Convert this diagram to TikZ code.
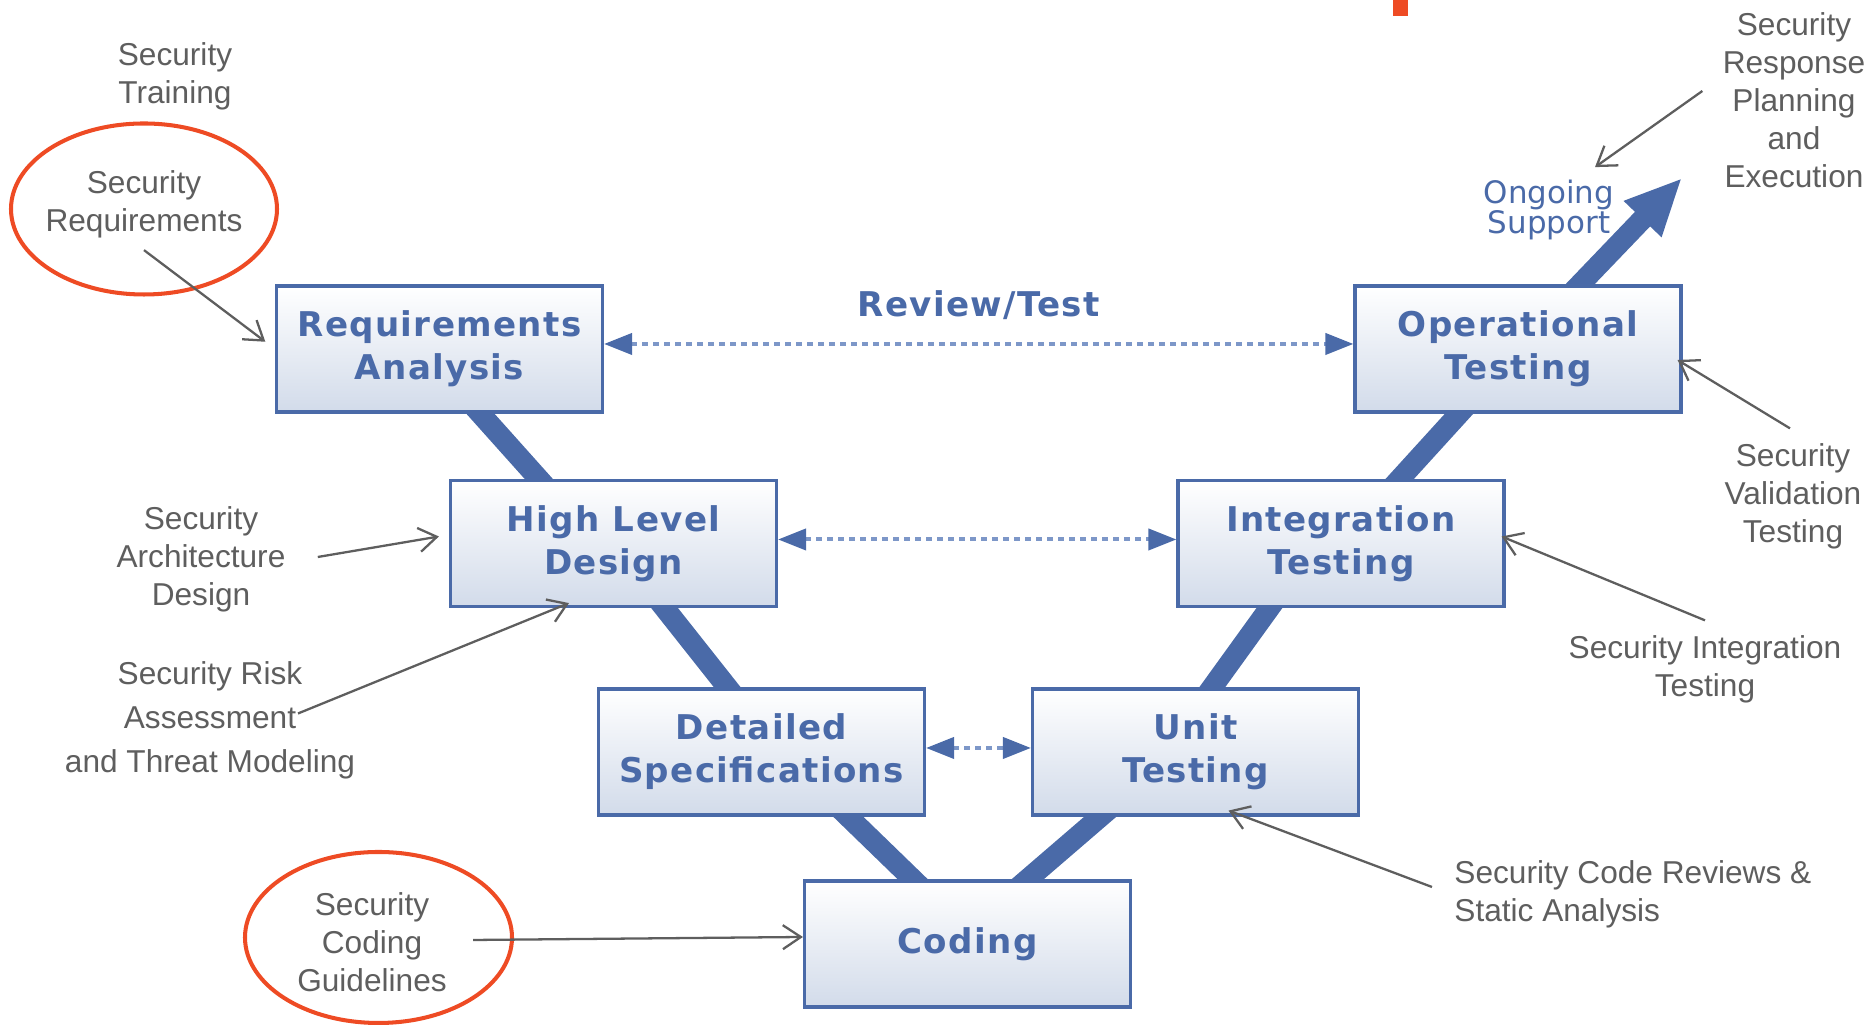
\documentclass[tikz,border=0pt]{standalone}
\usepackage{fontspec}
\setmainfont{Liberation Sans}
\newfontfamily\vfont[LetterSpace=4]{DejaVu Sans}
\newfontfamily\pixfont{DejaVu Sans}
\usetikzlibrary{arrows.meta,backgrounds}
\definecolor{vblue}{HTML}{4A6AA8}
\definecolor{dotblue}{HTML}{7D97C8}
\definecolor{boxbot}{HTML}{D2DBEA}
\definecolor{notegray}{HTML}{5E5E5E}
\definecolor{ringred}{HTML}{EE4B24}

\begin{document}
\begin{tikzpicture}[
    phase/.style={shape=rectangle, draw=vblue, line width=0.9pt, top color=white, bottom color=boxbot,
        minimum width=3.26cm, minimum height=1.26cm, align=center, text=vblue,
        font=\vfont\bfseries\fontsize{9.7}{12.2}\selectfont},
    vband/.style={color=vblue, line width=0.21cm},
    review/.style={color=dotblue, line width=0.04cm, dash pattern=on 0.06cm off 0.05cm,
        >={Triangle[length=0.28cm,width=0.21cm,color=vblue]}, <->},
    note/.style={align=center, text=notegray, font=\fontsize{9}{10.8}\selectfont},
    pointer/.style={color=notegray, line width=0.65pt, -{Straight Barb[length=0.18cm,width=0.24cm]}},
    ring/.style={draw=ringred, line width=1.15pt}
]
            \useasboundingbox (0,0) rectangle (18.69,10.25);

            % the V
            \node[phase] (RA) at (4.395,6.76) {Requirements\\Analysis};
            \node[phase] (HLD) at (6.135,4.815) {High Level\\Design};
            \node[phase] (DS) at (7.615,2.73) {Detailed\\Specifications};
            \node[phase] (CD) at (9.675,0.81) {Coding};
            \node[phase] (UT) at (11.955,2.73) {Unit\\Testing};
            \node[phase] (IT) at (13.41,4.815) {Integration\\Testing};
            \node[phase] (OT) at (15.18,6.76) {Operational\\Testing};
            \coordinate (TIP) at (16.82,8.47);

            \begin{pgfonlayer}{background}
            \path[vband] ([xshift=-0.17cm]RA.center) edge ([xshift=-0.17cm]HLD.center);
            \path[vband] (HLD.center) edge ([xshift=0.17cm]DS.center);
            \path[vband] ([xshift=0.2cm]DS.center) edge ([xshift=0.12cm]CD.center);
            \path[vband] ([xshift=-0.15cm]CD.center) edge ([xshift=-0.2cm]UT.center);
            \path[vband] ([xshift=-0.3cm]UT.center) edge ([xshift=-0.25cm]IT.center);
            \path[vband] (IT.center) edge (OT.center);
            \path[vband, -{Triangle[length=0.57cm,width=0.48cm]}] (OT.center) edge (TIP);
            \end{pgfonlayer}

            \path[review] ([yshift=0.05cm]RA.east) edge node[above=0.22cm, inner sep=0pt, text=vblue,
                font=\vfont\bfseries\fontsize{9.7}{12.2}\selectfont] {Review/Test} ([yshift=0.05cm]OT.west);
            \path[review] ([yshift=0.04cm]HLD.east) edge ([yshift=0.04cm]IT.west);
            \path[review] ([yshift=0.04cm]DS.east) edge ([yshift=0.04cm]UT.west);

            \node[align=center, text=vblue, font=\pixfont\fontsize{8.8}{8.8}\selectfont] (OS) at (15.49,8.15) {Ongoing\\Support};

            % security activities
            \node[note] (S1) at (1.75,9.49) {Security\\Training};
            \node[note] (S2) at (1.44,8.21) {Security\\Requirements};
            \node[note] (S3) at (2.01,4.655) {Security\\Architecture\\Design};
            \node[note, font=\fontsize{9}{12.5}\selectfont] (S4) at (2.10,3.045) {Security Risk\\Assessment\\and Threat Modeling};
            \node[note] (S5) at (3.72,0.83) {Security\\Coding\\Guidelines};
            \node[note, align=left, anchor=west] (S6) at (14.42,1.31) {Security Code Reviews \&\\Static Analysis};
            \node[note] (S7) at (17.05,3.555) {Security Integration\\Testing};
            \node[note] (S8) at (17.93,5.285) {Security\\Validation\\Testing};
            \node[note] (S9) at (17.94,9.25) {Security\\Response\\Planning\\and\\Execution};

            \draw[ring] ([yshift=-0.05cm]S2.center) ellipse [x radius=1.33cm, y radius=0.855cm];
            \draw[ring] ([xshift=0.065cm, yshift=0.045cm]S5.center) ellipse [x radius=1.335cm, y radius=0.855cm];
            \fill[ringred] (13.93,10.09) rectangle (14.08,10.25);

            \path[pointer] (S2.south) edge[shorten >=0.12cm] (RA.west);
            \path[pointer] ([xshift=0.2cm, yshift=0.025cm]S3.east) edge ([xshift=-0.1cm, yshift=0.07cm]HLD.west);
            \path[pointer] ([xshift=0.88cm, yshift=0.07cm]S4.center) edge ([xshift=-0.445cm, yshift=0.05cm]HLD.south);
            \path[pointer] ([xshift=0.14cm, yshift=0.02cm]S5.east) edge ([yshift=0.07cm]CD.west);
            \path[pointer] ([xshift=-0.1cm, yshift=0.07cm]S6.west) edge ([xshift=0.33cm, yshift=0.06cm]UT.south);
            \path[pointer] ([yshift=0.03cm]S7.north) edge ([xshift=-0.04cm, yshift=0.07cm]IT.east);
            \path[pointer] ([xshift=-0.03cm, yshift=0.03cm]S8.north) edge ([xshift=-0.05cm, yshift=-0.11cm]OT.east);
            \path[pointer] ([xshift=-0.08cm, yshift=0.09cm]S9.west) edge ([xshift=0.46cm]OS.north);
        \end{tikzpicture}
\end{document}
